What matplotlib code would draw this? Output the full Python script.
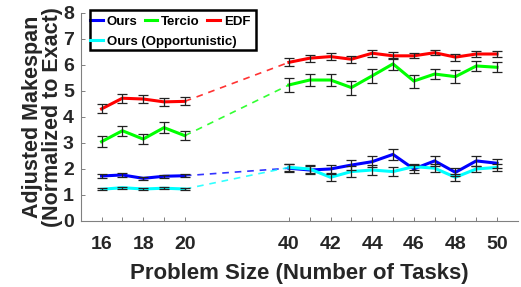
import numpy as np
import matplotlib
matplotlib.use('Agg')
import matplotlib.pyplot as plt
from matplotlib.patches import Rectangle

plt.rcParams['font.family'] = ['Liberation Sans', 'DejaVu Sans']
plt.rcParams['font.weight'] = 'bold'

# Datos
sizes_small = [16, 17, 18, 19, 20]
sizes_large = [40, 41, 42, 43, 44, 45, 46, 47, 48, 49, 50]

ours_small = [1.73, 1.77, 1.64, 1.72, 1.74]
ours_large = [2.03, 1.96, 2.00, 2.15, 2.28, 2.56, 2.00, 2.31, 1.87, 2.31, 2.22]
ours_err_small = [0.07, 0.07, 0.05, 0.06, 0.06]
ours_err_large = [0.15, 0.15, 0.15, 0.2, 0.22, 0.2, 0.15, 0.2, 0.15, 0.2, 0.17]

tercio_small = [3.05, 3.47, 3.15, 3.59, 3.28]
tercio_large = [5.23, 5.42, 5.42, 5.13, 5.58, 6.04, 5.38, 5.65, 5.55, 5.96, 5.91]
tercio_err_small = [0.2, 0.2, 0.18, 0.2, 0.17]
tercio_err_large = [0.27, 0.24, 0.22, 0.27, 0.26, 0.22, 0.25, 0.2, 0.24, 0.19, 0.19]

edf_small = [4.31, 4.72, 4.69, 4.58, 4.60]
edf_large = [6.10, 6.26, 6.32, 6.22, 6.45, 6.35, 6.35, 6.47, 6.30, 6.42, 6.42]
edf_err_small = [0.17, 0.17, 0.15, 0.15, 0.15]
edf_err_large = [0.15, 0.14, 0.13, 0.13, 0.13, 0.14, 0.1, 0.1, 0.13, 0.13, 0.1]

opp_small = [1.22, 1.28, 1.23, 1.26, 1.23]
opp_large = [2.06, 2.00, 1.68, 1.90, 1.96, 1.90, 2.09, 2.03, 1.68, 2.00, 2.06]
opp_err_small = [0.03, 0.04, 0.03, 0.03, 0.03]
opp_err_large = [0.12, 0.15, 0.14, 0.2, 0.2, 0.18, 0.12, 0.15, 0.14, 0.12, 0.12]


def pos(sizes):
    # eje partido: 16-20 y 40-50 con un hueco de 5 unidades
    return [s - 16 if s <= 20 else s - 31 for s in sizes]


series = [
    ('Ours', '#0000ff', ours_small, ours_large, ours_err_small, ours_err_large),
    ('Tercio', '#00ff00', tercio_small, tercio_large, tercio_err_small, tercio_err_large),
    ('EDF', '#ff0000', edf_small, edf_large, edf_err_small, edf_err_large),
    ('Ours (Opportunistic)', '#00ffff', opp_small, opp_large, opp_err_small, opp_err_large),
]

fig = plt.figure(figsize=(5.21, 2.87), dpi=100)
ax = fig.add_axes([0.155, 0.23, 0.839, 0.725])

xs = pos(sizes_small)
xl = pos(sizes_large)
handles = {}
for name, color, ys, yl, es, el in series:
    h, = ax.plot(xs, ys, color=color, lw=2.2, zorder=2, label=name)
    ax.plot(xl, yl, color=color, lw=2.2, zorder=2)
    ax.plot([xs[-1], xl[0]], [ys[-1], yl[0]], color=color, lw=1.2,
            ls=(0, (4, 3.5)), alpha=0.8, zorder=1)
    ax.errorbar(xs, ys, yerr=es, fmt='none', ecolor='#222222', elinewidth=0.9,
                capsize=3.5, capthick=0.9, zorder=3)
    ax.errorbar(xl, yl, yerr=el, fmt='none', ecolor='#222222', elinewidth=0.9,
                capsize=3.5, capthick=0.9, zorder=3)
    handles[name] = h

all_sizes = sizes_small + sizes_large
ax.set_xticks(pos(all_sizes))
ax.set_xticklabels([str(s) if s % 2 == 0 else '' for s in all_sizes])
ax.set_xlim(-1, 20)
ax.set_ylim(0, 8)
ax.set_yticks(range(0, 9))

for side in ['top', 'right']:
    ax.spines[side].set_visible(False)
for side in ['left', 'bottom']:
    ax.spines[side].set_color('#808080')
    ax.spines[side].set_linewidth(0.8)
ax.tick_params(direction='in', length=3, width=0.7, color='#808080',
               labelsize=14, labelcolor='#262626', pad=5)
ax.tick_params(axis='x', pad=11)

ax.set_xlabel('Problem Size (Number of Tasks)', fontsize=16, color='#262626',
              fontweight='bold', labelpad=7)
ax.set_ylabel('Adjusted Makespan\n(Normalized to Exact)', fontsize=15.5,
              color='#262626', fontweight='bold', linespacing=0.95, labelpad=0)

# Leyenda en dos filas con un marco comun
leg_kw = dict(frameon=False, fontsize=9.5, handlelength=0.95, handletextpad=0.3,
              columnspacing=0.55, borderpad=0, borderaxespad=0, loc='center left')
leg1 = ax.legend(handles=[handles['Ours'], handles['Tercio'], handles['EDF']],
                 ncol=3, bbox_to_anchor=(0.022, 0.957), **leg_kw)
ax.add_artist(leg1)
ax.legend(handles=[handles['Ours (Opportunistic)']], ncol=1,
          bbox_to_anchor=(0.022, 0.861), **leg_kw)
ax.add_patch(Rectangle((0.0206, 0.822), 0.38, 0.192, transform=ax.transAxes,
                       fill=False, edgecolor='black', lw=1.8, clip_on=False, zorder=5))

fig.savefig('out.png', dpi=100)
